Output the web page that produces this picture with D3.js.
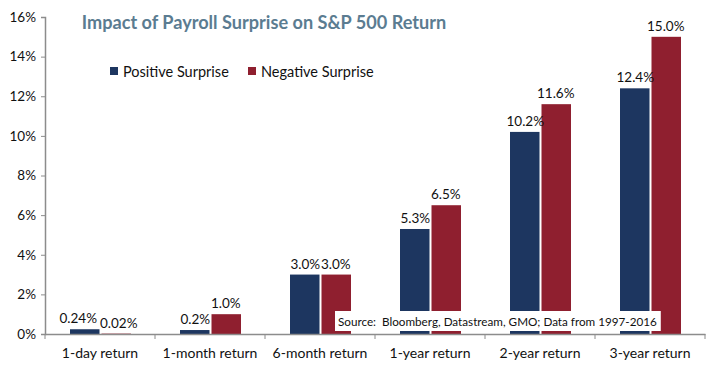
<!DOCTYPE html>
<html><head><meta charset="utf-8">
<script src="https://cdn.jsdelivr.net/npm/d3@7"></script>
<style>body{margin:0;background:#fff}svg{display:block}text{font-family:Lato,"Open Sans",sans-serif}</style>
</head><body><svg id="c" width="711" height="368"></svg>
<script>
const categories = ["1-day return","1-month return","6-month return","1-year return","2-year return","3-year return"];
const positive = [0.24,0.2,3.0,5.3,10.2,12.4];
const negative = [0.02,1.0,3.0,6.5,11.6,15.0];
const posLabels = ["0.24%","0.2%","3.0%","5.3%","10.2%","12.4%"];
const negLabels = ["0.02%","1.0%","3.0%","6.5%","11.6%","15.0%"];
const seriesNames = ["Positive Surprise","Negative Surprise"];
const yTicks = [0,2,4,6,8,10,12,14,16];
const title = "Impact of Payroll Surprise on S&P 500 Return";
const source = "Source:  Bloomberg, Datastream, GMO; Data from 1997-2016";
const colors = ["#1d3660","#8f1f2f"];

const svg = d3.select("#c");
const x = d3.scaleBand().domain(categories).range([45,705]);
const xs = d3.scaleBand().domain([0,1]).range([0,61]);
const y = d3.scaleLinear().domain([0,16]).range([334,17]);

// bars
const series = [positive, negative];
const lbls = [posLabels, negLabels];
series.forEach((vals,si)=>{
  svg.append("g").selectAll("rect").data(vals).join("rect")
    .attr("x",(d,i)=>x(categories[i])+25+xs(si)+(si?1:0))
    .attr("width",xs.bandwidth()-1)
    .attr("y",d=>y(d)).attr("height",d=>y(0)-y(d))
    .attr("fill",colors[si]);
});
series.forEach((vals,si)=>{
  svg.append("g").selectAll("text").data(vals).join("text")
    .attr("x",(d,i)=>x(categories[i])+25+xs(si)+xs.bandwidth()/2+(si===1&&i===0?3:0)+(si===0&&i===0?-7:0))
    .attr("y",d=>y(d)-6)
    .attr("text-anchor","middle").attr("font-size",13.5).attr("fill","#111")
    .text((d,i)=>lbls[si][i]);
});

// y axis
const yAxis = svg.append("g").attr("transform","translate(45,0)")
  .call(d3.axisLeft(y).tickValues(yTicks).tickSize(4).tickFormat(d=>d+"%"));
yAxis.select(".domain").attr("stroke","#8c8c8c").attr("stroke-width",1.5);
yAxis.selectAll(".tick line").attr("stroke","#8c8c8c");
yAxis.selectAll(".tick text").attr("font-size",13.5).attr("fill","#111").attr("x",-9).style("font-family","Lato");

// x axis
const xAxis = svg.append("g").attr("transform","translate(0,334)")
  .call(d3.axisBottom(x).tickSize(0).tickPadding(14));
xAxis.select(".domain").attr("stroke","#8c8c8c").attr("stroke-width",1.5);
xAxis.selectAll(".tick text").attr("font-size",14).attr("fill","#111").style("font-family","Lato");
svg.append("g").selectAll("line").data(categories.slice(1).concat(["end"])).join("line")
  .attr("x1",(d,i)=>i<5?x(d):705).attr("x2",(d,i)=>i<5?x(d):705)
  .attr("y1",334).attr("y2",339).attr("stroke","#8c8c8c");
svg.append("line").attr("x1",45).attr("x2",45).attr("y1",334).attr("y2",339).attr("stroke","#8c8c8c");

// source box
const sg = svg.append("g");
const st = sg.append("text").attr("x",338).attr("y",326).attr("font-size",12).attr("fill","#111")
  .style("white-space","pre").text(source);
let sw = st.node().getComputedTextLength();
st.attr("font-size",12*319/sw);
sw = st.node().getComputedTextLength();
sg.insert("rect","text").attr("x",335).attr("y",311).attr("width",sw+7).attr("height",20).attr("fill","#fff");

// title
const tt = svg.append("text").attr("x",264).attr("y",29).attr("text-anchor","middle")
  .attr("font-weight","bold").attr("font-size",23).attr("fill","#5b7c91").text(title);
const tw = tt.node().getComputedTextLength();
tt.attr("font-size",23*365/tw);

// legend
const lg = svg.append("g");
[110,248].forEach((lx,i)=>{
  lg.append("rect").attr("x",lx).attr("y",67).attr("width",8).attr("height",8).attr("fill",colors[i]);
  lg.append("text").attr("x",lx+13).attr("y",77).attr("font-size",14.5).attr("fill","#111").text(seriesNames[i]);
});
</script></body></html>
